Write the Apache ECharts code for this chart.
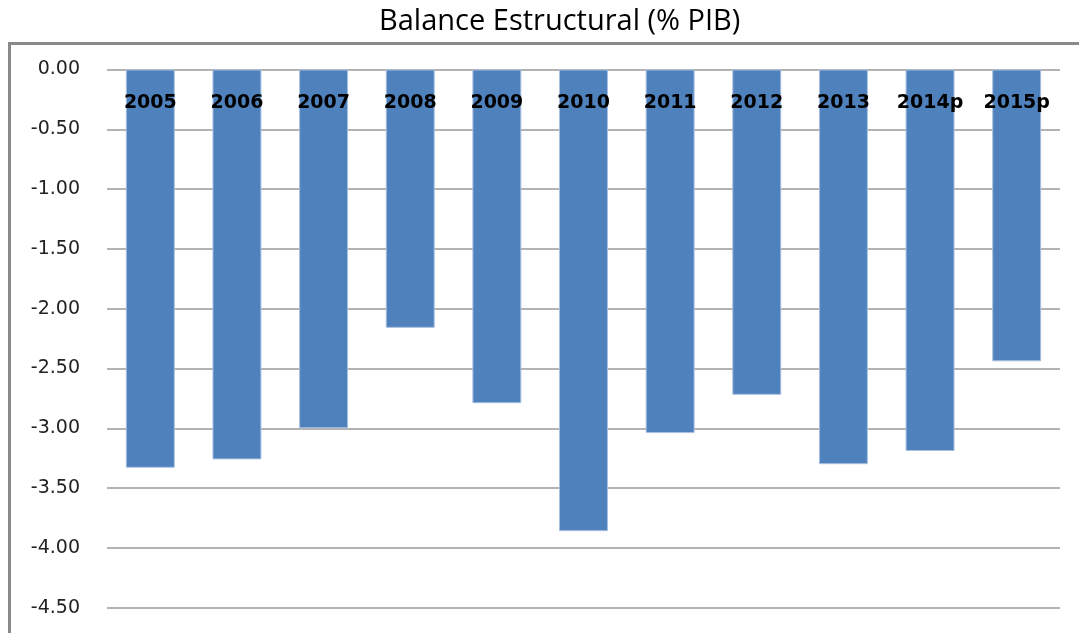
<!DOCTYPE html>
<html>
<head>
<meta charset="utf-8">
<script src="https://cdn.jsdelivr.net/npm/echarts@6/dist/echarts.min.js"></script>
<style>
  html, body { margin: 0; padding: 0; background: #fff; }
  #chart { width: 1079px; height: 633px; }
</style>
</head>
<body>
<div id="chart"></div>
<script>
var years = ['2005', '2006', '2007', '2008', '2009', '2010', '2011', '2012', '2013', '2014p', '2015p'];
var balance = [-3.33, -3.26, -3.00, -2.16, -2.79, -3.86, -3.04, -2.72, -3.30, -3.19, -2.44];

var myChart = echarts.init(document.getElementById('chart'));

var option = {
    animation: false,
    title: {
        text: 'Balance Estructural (% PIB)',
        left: 374,
        top: 2,
        textStyle: {
            fontFamily: 'Open Sans',
            fontWeight: 'normal',
            fontSize: 29,
            color: '#000'
        }
    },
    graphic: [{
        type: 'rect',
        shape: { x: 9.5, y: 43.5, width: 1200, height: 700 },
        style: { fill: 'none', stroke: '#8a8a8a', lineWidth: 3 },
        silent: true
    }],
    grid: {
        left: 107,
        right: 19,
        top: 69.5,
        bottom: 25.3
    },
    xAxis: {
        type: 'category',
        position: 'top',
        data: years,
        axisLine: { show: false },
        axisTick: { show: false },
        axisLabel: {
            inside: true,
            margin: 24,
            fontFamily: 'DejaVu Sans',
            fontWeight: 'bold',
            fontSize: 19,
            color: '#000'
        },
        z: 5
    },
    yAxis: {
        type: 'value',
        min: -4.5,
        max: 0,
        interval: 0.5,
        axisLine: { show: false },
        axisTick: { show: false },
        axisLabel: {
            margin: 27,
            fontFamily: 'DejaVu Sans',
            fontSize: 19,
            color: '#222',
            formatter: function (v) { return v.toFixed(2); }
        },
        splitLine: { lineStyle: { color: '#9a9a9a', width: 1.5 } }
    },
    series: [{
        type: 'bar',
        data: balance,
        barWidth: '56.5%',
        itemStyle: {
            color: '#4f81bd',
            borderColor: '#a9c0e0',
            borderWidth: 1
        },
        z: 2
    }]
};

myChart.setOption(option);
</script>
</body>
</html>
